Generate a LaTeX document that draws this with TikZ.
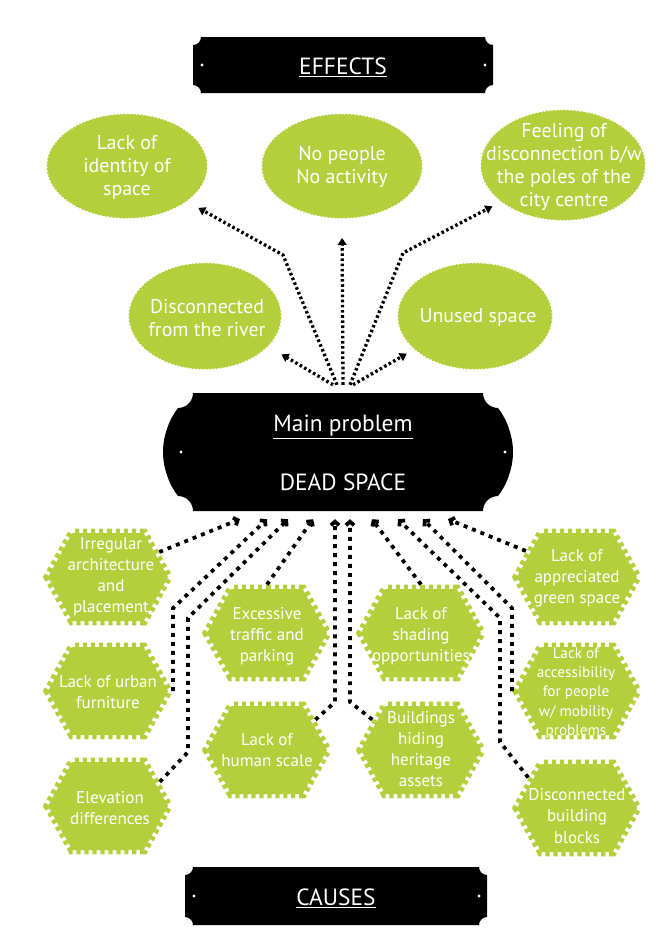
\documentclass[tikz,border=0pt]{standalone}
\usepackage{fontspec}
\setmainfont{PT Sans}
\usepackage{tikz}
\usetikzlibrary{positioning,calc,arrows.meta,shapes.geometric,shapes.symbols,decorations.pathmorphing}
\definecolor{leaf}{RGB}{179,207,59}

\tikzset{
  effect/.style={ellipse, fill=leaf, inner sep=0pt, minimum width=48mm, minimum height=31.2mm,
    decorate, decoration={snake, amplitude=0.5pt, segment length=3pt}},
  cause/.style={signal, signal to=east and west, signal pointer angle=122, fill=leaf, draw=leaf,
    line width=7.6pt, dash pattern=on 3.6pt off 3.2pt, inner sep=0pt,
    minimum width=36mm, minimum height=26.4mm},
  efftext/.style={text=white, align=center, font=\fontsize{17}{19.6}\selectfont},
  causetext/.style={text=white, align=center, font=\fontsize{14.5}{18}\selectfont},
  plaquetext/.style={text=white, font=\fontsize{20}{24}\selectfont},
  effline/.style={line width=2.8pt, dash pattern=on 2.2pt off 2.2pt, -{Triangle[length=6pt,width=7.5pt]}},
  causeline/.style={line width=3.2pt, dash pattern=on 3.4pt off 4.3pt, -{Straight Barb[length=3pt,width=7pt]}},
}

\begin{document}
\begin{tikzpicture}[x=0.3mm,y=-0.3mm]
\useasboundingbox (0,0) rectangle (670,952);

% title plaques
\foreach \l/\t/\r/\b in {193/37/493/93, 185/867/487/925}{
  \fill (\l+8,\t) -- (\r-8,\t) .. controls (\r-8,\t+4.4) and (\r-4.4,\t+8) .. (\r,\t+8)
    -- (\r,\b-8) .. controls (\r-4.4,\b-8) and (\r-8,\b-4.4) .. (\r-8,\b)
    -- (\l+8,\b) .. controls (\l+8,\b-4.4) and (\l+4.4,\b-8) .. (\l,\b-8)
    -- (\l,\t+8) .. controls (\l+4.4,\t+8) and (\l+8,\t+4.4) .. (\l+8,\t) -- cycle;
  \fill[white] (\l+9,{(\t+\b)/2}) circle (1.4pt);
  \fill[white] (\r-8,{(\t+\b)/2}) circle (1.4pt);
}
\node[plaquetext] (effects) at (343,67) {\underline{EFFECTS}};
\node[plaquetext] (causes) at (336,898) {\underline{CAUSES}};

% main plaque
\fill (193,393) -- (483,393) .. controls (483,401.3) and (489.7,408) .. (498,408)
  .. controls (506,418) and (513,435) .. (513,452) .. controls (513,469) and (506,486) .. (498,496)
  .. controls (489.7,496) and (483,502.7) .. (483,511) -- (193,511)
  .. controls (193,502.7) and (186.3,496) .. (178,496)
  .. controls (170,486) and (163,469) .. (163,452) .. controls (163,435) and (170,418) .. (178,408)
  .. controls (186.3,408) and (193,401.3) .. (193,393) -- cycle;
\fill[white] (181,452) circle (1.4pt);
\fill[white] (505,452) circle (1.4pt);
\node[minimum width=105mm, minimum height=35.4mm] (main) at (338,452) {};
\node[plaquetext] (mainprob) at (343,427) {\underline{Main problem}};
\node[plaquetext] (dead) at (343,482) {DEAD SPACE};

% effects
\node[effect] (identity) at (127,167) {};
\node[effect] (nopeople) at (342,167) {};
\node[effect, minimum width=49.2mm, minimum height=33mm] (feeling) at (563,166) {};
\node[effect, minimum width=45.6mm, minimum height=31.8mm] (river) at (205,317) {};
\node[effect, minimum width=46.2mm, minimum height=31.8mm] (unused) at (475,317) {};
\node[efftext] (identity-t) at (127,167) {Lack of\\identity of\\space};
\node[efftext] (nopeople-t) at (342,167) {No people\\No activity};
\node[efftext] (feeling-t) at (564,167) {Feeling of\\disconnection b/w\\the poles of the\\city centre};
\node[efftext] (river-t) at (207,318) {Disconnected\\from the river};
\node[efftext] (unused-t) at (478,318) {Unused space};

% causes
\node[cause] (irregular) at (108,577) {};
\node[cause] (furniture) at (108,691) {};
\node[cause] (elevation) at (108,806) {};
\node[cause] (traffic) at (267,633) {};
\node[cause] (scale) at (267,750) {};
\node[cause] (shading) at (421,633) {};
\node[cause] (heritage) at (421,750) {};
\node[cause] (green) at (577,577) {};
\node[cause] (access) at (577,691) {};
\node[cause] (blocks) at (577,808) {};
\node[causetext] (irregular-t) at (111,577) {Irregular\\architecture\\and\\placement};
\node[causetext] (furniture-t) at (108,692) {Lack of urban\\furniture};
\node[causetext] (elevation-t) at (110,808) {Elevation\\differences};
\node[causetext] (traffic-t) at (267,636) {Excessive\\traffic and\\parking};
\node[causetext] (scale-t) at (267,750) {Lack of\\human scale};
\node[causetext] (shading-t) at (421,636) {Lack of\\shading\\opportunities};
\node[causetext] (heritage-t) at (421,749) {Buildings\\hiding\\heritage\\assets};
\node[causetext] (green-t) at (577,578) {Lack of\\appreciated\\green space};
\node[causetext, font=\fontsize{13}{16.5}\selectfont] (access-t) at (576,693) {Lack of\\accessibility\\for people\\w/ mobility\\problems};
\node[causetext] (blocks-t) at (577,816) {Disconnected\\building\\blocks};

% arrow ends on the main plaque
\foreach \n/\dx in {1/-1,2/5,3/12,4/-5,5/15}
  \coordinate (out\n) at ($(main.north)+(\dx,-8)$);
\foreach \n/\dx in {1/-98,2/-71,3/-50,4/-25,5/-3,6/12,7/34,8/60,9/85,10/110}
  \coordinate (in\n) at ($(main.south)+(\dx,8)$);

\draw[effline, shorten >=11pt] (out1) -- (283,255) -- (identity.-30);
\draw[effline, shorten >=16pt] (out2) -- (nopeople.south);
\draw[effline, shorten >=8pt] (out3) -- (403,253) -- (feeling.-150);
\draw[effline, shorten >=13pt] (out4) -- (river.-25);
\draw[effline, shorten >=7pt] (out5) -- (unused.-152);

\draw[causeline] (irregular.26) -- (in1);
\draw[causeline] (furniture.east) -- ++(0,-83) -- (in2);
\draw[causeline] (elevation.25) -- (188,752) -- (188,618) -- (in3);
\draw[causeline] (traffic.north) -- (in4);
\draw[causeline] (scale.32) -- (335,702) -- (in5);
\draw[causeline] (heritage.148) -- (350,702) -- (in6);
\draw[causeline] (shading.north) -- (in7);
\draw[causeline] (blocks.148) -- (500,742) -- (500,618) -- (in8);
\draw[causeline] (access.west) -- ++(0,-83) -- (in9);
\draw[causeline] (green.153) -- (in10);
\end{tikzpicture}
\end{document}
